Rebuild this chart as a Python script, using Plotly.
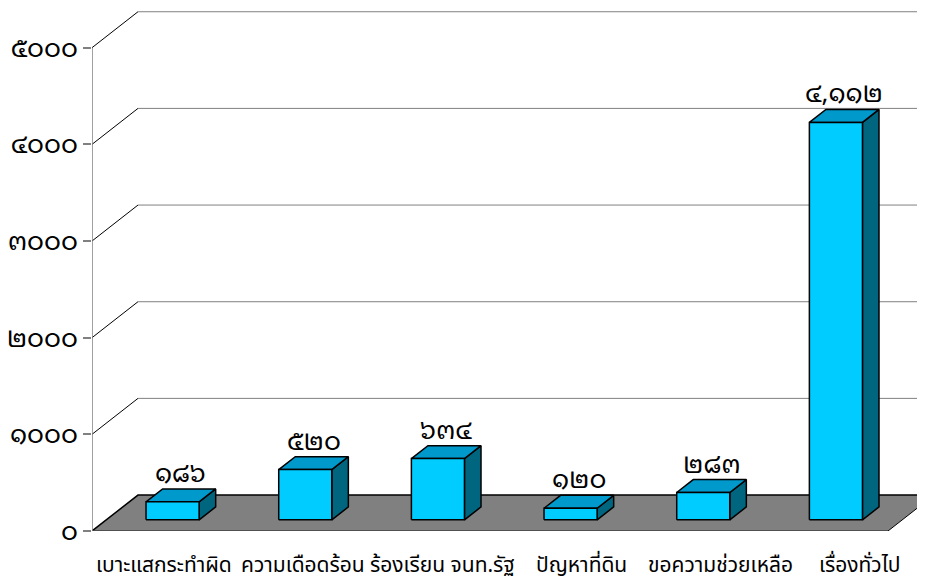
import plotly.graph_objects as go

categories = ["เบาะแสกระทำผิด", "ความเดือดร้อน", "ร้องเรียน จนท.รัฐ", "ปัญหาที่ดิน", "ขอความช่วยเหลือ", "เรื่องทั่วไป"]
values = [186, 520, 634, 120, 283, 4112]
y_ticks = [0, 1000, 2000, 3000, 4000, 5000]

THAI = str.maketrans("0123456789", "๐๑๒๓๔๕๖๗๘๙")
def thai(s):
    return str(s).translate(THAI)

# projection (data units): depth vector
DX, DY = 0.3467, 372.0
XMAX, YMAX = 6.279, 5390
NC = len(categories)

FONT = "Noto Sans Thai, Noto Sans, Tahoma, sans-serif"
NUMFONT = "Noto Sans Thai Looped, Noto Sans Thai, sans-serif"
fig = go.Figure()

def poly(xs, ys, fill, line="black", lw=1.5):
    fig.add_trace(go.Scatter(x=xs + [xs[0]], y=ys + [ys[0]], mode="lines", fill="toself",
                             fillcolor=fill, line=dict(color=line, width=lw),
                             hoverinfo="skip", showlegend=False))

def seg(xs, ys, color, lw=1):
    fig.add_trace(go.Scatter(x=xs, y=ys, mode="lines", line=dict(color=color, width=lw),
                             hoverinfo="skip", showlegend=False))

# back wall gridlines
for v in y_ticks[1:]:
    seg([0, DX], [v, v + DY], "#000000", 1)
    seg([DX, XMAX + 1], [v + DY, v + DY], "#808080", 1)

# floor
fig.add_trace(go.Scatter(x=[0, DX, NC + DX, NC, 0], y=[0, DY, DY, 0, 0],
                         mode="lines", fill="toself", fillcolor="#808080",
                         line=dict(width=0), hoverinfo="skip", showlegend=False))
seg([0, DX, NC + DX], [0, DY, DY], "#000000", 1.5)
seg([NC, NC + DX], [0, DY], "#000000", 1)
seg([0, NC], [0, 0], "#404040", 1.5)

# front axis line
seg([0, 0], [0, y_ticks[-1]], "#808080", 1.5)

# bars
d0, dd = 0.31, 0.36
for i, v in enumerate(values):
    x0 = i + 0.3 + d0 * DX
    x1 = x0 + 0.4
    yb = d0 * DY
    yt = v + d0 * DY
    ox, oy = dd * DX, dd * DY
    # side
    poly([x1, x1 + ox, x1 + ox, x1], [yb, yb + oy, yt + oy, yt], "#006680")
    # top
    poly([x0, x1, x1 + ox, x0 + ox], [yt, yt, yt + oy, yt + oy], "#0099CC")
    # front
    poly([x0, x1, x1, x0], [yb, yb, yt, yt], "#00CCFF")
    label = f"{v:,}" if v >= 1000 else str(v)
    fig.add_annotation(x=(x0 + x1) / 2 + ox / 2, y=yt + oy, text=thai(label), showarrow=False,
                       yanchor="bottom", yshift=-4, font=dict(family=NUMFONT, size=26, color="black"))
    # category label
    fig.add_annotation(x=i + 0.664 + (i - 2.5) * 0.049, y=0, yref="paper", xref="x",
                       text=categories[i], showarrow=False, yanchor="middle", yshift=-34,
                       font=dict(family=FONT, size=21, color="black"))

fig.update_layout(
    width=917, height=573,
    margin=dict(l=84, r=0, t=2, b=50),
    paper_bgcolor="white", plot_bgcolor="white",
    xaxis=dict(range=[0, XMAX], visible=False, fixedrange=True),
    yaxis=dict(range=[0, YMAX], showgrid=False, zeroline=False, showline=False,
               tickvals=y_ticks, ticktext=[thai(t) for t in y_ticks],
               ticks="outside", ticklen=8, tickcolor="#808080", tickwidth=1.5,
               tickfont=dict(family=NUMFONT, size=26, color="black"), fixedrange=True,
               automargin=False),
    showlegend=False,
)

fig.write_html("out.html")
